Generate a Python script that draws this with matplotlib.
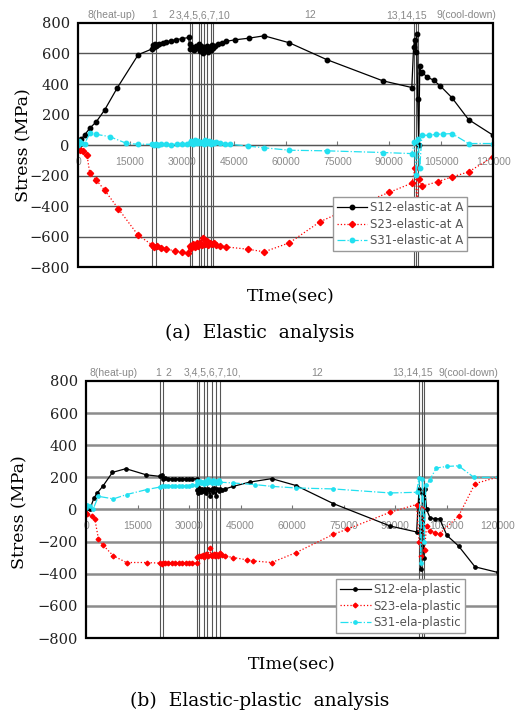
import numpy as np
import matplotlib.pyplot as plt
from matplotlib.patches import Rectangle

# (a) elastic analysis
t12_a = [0, 500, 1000, 1900, 3400, 5300, 7700, 11300, 17400, 21400, 21600, 21900, 22200, 22500, 22700,
         23500, 24500, 25500, 26800, 28200, 30000, 32000, 32300, 32500, 33000, 33500, 34000, 34500, 35000,
         35300, 35600, 36000, 36400, 36800, 37200, 37600, 38000, 38400, 38800, 39100, 39600, 40500, 41500,
         42900, 45500, 49300, 53800, 61100, 71900, 88100, 96500, 97000, 97300, 97600, 97900, 98200, 98500,
         98800, 99100, 99400, 100800, 102800, 104700, 108100, 112900, 120000]
s12_a = [0, 10, 40, 66, 110, 153, 230, 373, 592, 630, 655, 640, 660, 648, 655,
         662, 670, 676, 683, 690, 697, 705, 630, 660, 640, 625, 648, 635, 660,
         615, 650, 605, 640, 625, 650, 610, 640, 620, 655, 635, 650, 662, 670,
         680, 690, 700, 716, 670, 560, 421, 377, 640, 690, 610, 725, 300, 0,
         520, 470, 480, 447, 425, 388, 310, 167, 64]

t23_a = [0, 500, 1400, 2600, 3400, 5300, 7700, 11600, 17400, 21500, 22000, 22700, 24000, 25500, 28000,
         30000, 31800, 32300, 32800, 33300, 33800, 34300, 34800, 35300, 35800, 36200, 36700, 37200, 37700,
         38200, 38700, 39200, 40000, 41000, 42900, 49200, 53800, 61100, 70000, 80000, 90000, 96500, 97500,
         98000, 98500, 99500, 104000, 108000, 112900, 120000]
s23_a = [-20, -33, -40, -66, -186, -230, -296, -416, -592, -655, -668, -662, -672, -680, -695,
         -700, -705, -660, -675, -650, -668, -645, -660, -640, -655, -610, -650, -630, -655,
         -640, -650, -645, -655, -660, -668, -683, -700, -641, -502, -400, -310, -250, -150,
         -400, -220, -270, -240, -210, -176, -77]

t31_a = [0, 300, 800, 1900, 3400, 5300, 9200, 14000, 17400, 21500, 22000, 22500, 23000, 24000, 25500,
         27000, 28500, 30000, 31500, 32300, 32800, 33300, 33800, 34300, 34800, 35300, 35800, 36300, 36800,
         37300, 37800, 38300, 38800, 39300, 40000, 41000, 42500, 44000, 49200, 53800, 61100, 71900, 88100,
         96500, 97200, 97800, 98300, 98800, 99400, 101400, 103500, 105400, 108100, 112900, 120000]
s31_a = [0, 25, 15, 10, 77, 70, 55, 11, 5, 5, 0, 10, 2, 5, 8,
         3, 6, 4, 8, 15, 25, 10, 30, 12, 28, 15, 22, 8, 30,
         12, 26, 10, 22, 15, 18, 12, 10, 5, -7, -18, -34, -38, -49,
         -56, 20, -198, 40, -150, 64, 64, 70, 72, 75, 10, 10]

# (b) elastic-plastic analysis
t12_b = [0, 400, 1200, 2300, 3300, 5000, 7700, 11600, 17500, 21600, 22000, 22500, 23000, 24000, 25000,
         26000, 27000, 28000, 29000, 30000, 31000, 32200, 32400, 32700, 33000, 33400, 33800, 34200, 34600,
         35000, 35400, 35800, 36200, 36600, 37000, 37400, 37800, 38200, 38600, 39000, 39500, 40500, 42900,
         47800, 54100, 61200, 72000, 88600, 96300, 97000, 97500, 98000, 98400, 98700, 99200, 100200,
         101700, 103000, 105100, 108500, 113300, 120000]
s12_b = [0, 10, 4, 72, 103, 148, 231, 254, 216, 206, 215, 192, 195, 192, 192,
         192, 192, 192, 192, 192, 192, 192, 120, 100, 135, 110, 130, 115, 125,
         105, 130, 120, 82, 128, 110, 135, 82, 125, 115, 130, 120, 128, 144,
         171, 192, 149, 37, -103, -140, 128, -372, 100, -300, 128, 0, -52,
         -58, -58, -161, -227, -357, -392]

t23_b = [0, 400, 1650, 2600, 3600, 5000, 8000, 11800, 17700, 21600, 22000, 22500, 23000, 24000, 25000,
         26000, 27000, 28000, 29000, 30000, 31000, 32200, 32400, 33000, 33500, 34000, 34500, 35000, 35500,
         36000, 36400, 36800, 37200, 37600, 38000, 38500, 39000, 39500, 40500, 42900, 46800, 48700, 54100,
         61200, 72000, 75900, 88600, 96300, 97000, 97500, 98000, 98600, 99200, 100200, 101700, 103000,
         108500, 113300, 120000]
s23_b = [-20, -31, -41, -62, -181, -223, -289, -330, -330, -334, -340, -334, -336, -334, -334,
         -334, -334, -334, -334, -334, -334, -334, -295, -289, -292, -285, -295, -280, -290,
         -237, -285, -290, -275, -290, -280, -290, -270, -285, -290, -299, -313, -320, -330,
         -268, -155, -124, -17, 31, -200, -289, 10, -250, -100, -134, -145, -150,
         -41, 161, 202]

t31_b = [0, 400, 1200, 2100, 3600, 8000, 11800, 17700, 21600, 22000, 23000, 24000, 25000, 26000, 27000,
         28000, 29000, 30000, 31000, 32000, 32300, 32700, 33100, 33500, 33900, 34300, 34700, 35100, 35500,
         35900, 36300, 36700, 37100, 37500, 37900, 38300, 38700, 39100, 42900, 49200, 54100, 61200, 72000,
         88600, 96300, 97000, 97500, 98000, 98500, 99000, 100200, 102000, 105100, 108500, 113000, 120000]
s31_b = [10, 31, 21, 4, 82, 66, 93, 124, 140, 144, 146, 145, 147, 146, 148,
         147, 149, 148, 150, 150, 175, 165, 180, 168, 172, 160, 178, 165, 190,
         170, 175, 162, 185, 168, 178, 165, 182, 170, 165, 155, 144, 134, 128,
         103, 107, 196, -330, 190, -200, 150, 186, 258, 268, 272, 200, 200]

stage_lines_a = [21400, 22500, 32400, 33000, 35100, 35600, 36400, 37200, 38400, 39100, 97000, 97600, 98400]
stage_lines_b = [21550, 22400, 32200, 33000, 34400, 35300, 36600, 37900, 39000, 97100, 97900, 98500]
stage_names = ['8(heat-up)', '1', '2', '3,4,5,6,7,10', '12', '13,14,15', '9(cool-down)']
stage_names_b = ['8(heat-up)', '1', '2', '3,4,5,6,7,10,', '12', '13,14,15', '9(cool-down)']
stage_pos_a = [9800, 21900, 27100, 36100, 67100, 94900, 112200]
stage_pos_b = [7900, 21000, 23900, 36700, 67300, 95000, 111300]

labels_a = ['S12-elastic-at A', 'S23-elastic-at A', 'S31-elastic-at A']
labels_b = ['S12-ela-plastic', 'S23-ela-plastic', 'S31-ela-plastic']

serif = ['DejaVu Serif']
narrow = ['Liberation Sans Narrow', 'Liberation Sans', 'DejaVu Sans']

fig = plt.figure(figsize=(5.15, 7.18), dpi=100)
ax1 = fig.add_axes([0.1515, 0.628, 0.806, 0.340])
ax2 = fig.add_axes([0.167, 0.1114, 0.800, 0.358])


def draw_panel(ax, series, labels, vlines, stage_pos, stage_txt, grid_col, grid_lw, ms, leg_anchor):
    ax.set_xlim(0, 120000)
    ax.set_ylim(-800, 800)
    for y in range(-600, 800, 200):
        ax.axhline(y, color=grid_col, lw=grid_lw, zorder=1)
    for x in vlines:
        ax.axvline(x, color='#555555', lw=0.8, zorder=1)

    styles = [dict(color='black', ls='-', marker='o'),
              dict(color='red', ls=':', marker='D'),
              dict(color='#22e0f0', ls='-.', marker='o')]
    for (t, s), lab, st in zip(series, labels, styles):
        ax.plot(t, s, lw=0.9, ms=ms, mec=st['color'], label=lab, zorder=3, **st)

    for sp in ax.spines.values():
        sp.set_visible(False)
    ax.spines['bottom'].set_visible(True)
    ax.spines['bottom'].set_position(('data', 0))
    ax.spines['bottom'].set_color(grid_col)
    ax.add_patch(Rectangle((0, 0), 1, 1, transform=ax.transAxes, fill=False,
                           lw=1.6, ec='black', zorder=6, clip_on=False))

    ax.set_xticks(range(0, 120001, 15000))
    ax.set_xticklabels([str(v) for v in range(0, 120001, 15000)], family=narrow,
                       fontsize=7.5, color='#8a8a8a')
    ax.tick_params(axis='x', direction='in', length=3, color='#777777', pad=8.5)
    ax.set_yticks(range(-800, 801, 200))
    ax.set_yticklabels([str(v).replace('-', '\u2212') for v in range(-800, 801, 200)],
                       family=serif, fontsize=10.5, color='#222222')
    ax.tick_params(axis='y', length=0, pad=6)

    for x, txt in zip(stage_pos, stage_txt):
        ax.text(x, 1.012, txt, transform=ax.get_xaxis_transform(), ha='center', va='bottom',
                family=narrow, fontsize=7.5, color='#888888')

    leg = ax.legend(loc='upper right', bbox_to_anchor=leg_anchor, fancybox=False, framealpha=1,
                    edgecolor='#999999', prop={'family': 'DejaVu Sans', 'size': 8.5},
                    handlelength=2.6, borderpad=0.35, labelspacing=0.3, handletextpad=0.2,
                    markerscale=1.0)
    leg.set_zorder(7)
    for tx in leg.get_texts():
        tx.set_color('#555555')


draw_panel(ax1, [(t12_a, s12_a), (t23_a, s23_a), (t31_a, s31_a)], labels_a, stage_lines_a,
           stage_pos_a, stage_names, '#555555', 1.0, 3.2, (0.952, 0.311))
draw_panel(ax2, [(t12_b, s12_b), (t23_b, s23_b), (t31_b, s31_b)], labels_b, stage_lines_b,
           stage_pos_b, stage_names_b, '#8c8c8c', 1.8, 2.4, (0.934, 0.253))

fig.text(24 / 515, 1 - 145 / 718, 'Stress (MPa)', rotation=90, ha='center', va='center',
         family=serif, fontsize=12.5)
fig.text(20 / 515, 1 - 512 / 718, 'Stress (MPa)', rotation=90, ha='center', va='center',
         family=serif, fontsize=12.5)
fig.text(291 / 515, 1 - 297 / 718, 'TIme(sec)', ha='center', va='center', family=serif, fontsize=12.5)
fig.text(292 / 515, 1 - 665 / 718, 'TIme(sec)', ha='center', va='center', family=serif, fontsize=12.5)
fig.text(260 / 515, 1 - 333 / 718, '(a)  Elastic  analysis', ha='center', va='center',
         family=serif, fontsize=13.5)
fig.text(260 / 515, 1 - 701 / 718, '(b)  Elastic-plastic  analysis', ha='center', va='center',
         family=serif, fontsize=13.5)

fig.savefig('out.png', dpi=100)
